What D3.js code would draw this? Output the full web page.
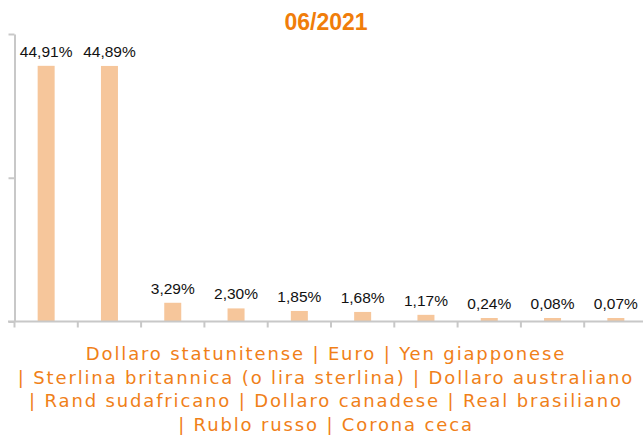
<!DOCTYPE html>
<html>
<head>
<meta charset="utf-8">
<script src="https://cdn.jsdelivr.net/npm/d3@7"></script>
<style>
  body { margin: 0; background: #fff; }
  svg { display: block; }
</style>
</head>
<body>
<svg id="chart"></svg>
<script>
const outerWidth = 643;
const outerHeight = 435;

// data
const currencies = ["Dollaro statunitense", "Euro", "Yen giapponese",
  "Sterlina britannica (o lira sterlina)", "Dollaro australiano",
  "Rand sudafricano", "Dollaro canadese", "Real brasiliano",
  "Rublo russo", "Corona ceca"];
const shares = [44.91, 44.89, 3.29, 2.30, 1.85, 1.68, 1.17, 0.24, 0.08, 0.07];
const legendLines = [
  "Dollaro statunitense | Euro | Yen giapponese",
  "| Sterlina britannica (o lira sterlina) | Dollaro australiano",
  "| Rand sudafricano | Dollaro canadese | Real brasiliano",
  "| Rublo russo | Corona ceca"
];
const title = "06/2021";
const yMax = 50.5;

const svg = d3.select("#chart")
  .attr("width", outerWidth)
  .attr("height", outerHeight);

var x = d3.scaleBand().domain(currencies).range([14.5, 647.5]).padding(0);
var y = d3.scaleLinear().domain([0, yMax]).range([321.5, 34]);

svg.append("text")
  .attr("x", 326).attr("y", 30)
  .attr("text-anchor", "middle")
  .style("font-family", "'Liberation Sans', Arial, sans-serif")
  .style("font-weight", "bold").style("font-size", "23px")
  .style("fill", "#f07d0a")
  .text(title);

// bars (tiny values still get a sliver, like the original)
var bw = 17;
var minH = 3.5;
var barTop = d => Math.min(y(d), y(0) - minH);

svg.append("g").selectAll("rect")
  .data(shares)
  .enter()
  .append("rect")
  .attr("x", (d, i) => x(currencies[i]) + x.bandwidth() / 2 - bw / 2)
  .attr("y", d => barTop(d))
  .attr("width", bw)
  .attr("height", d => y(0) - barTop(d))
  .style("fill", "#f6c69b");

svg.append("g").selectAll("text")
  .data(shares)
  .enter()
  .append("text")
  .attr("x", (d, i) => x(currencies[i]) + x.bandwidth() / 2)
  .attr("y", d => barTop(d) - 9)
  .attr("text-anchor", "middle")
  .style("font-family", "'Liberation Sans', Arial, sans-serif")
  .style("font-size", "15.5px")
  .style("fill", "#111")
  .text(d => d.toFixed(2).replace(".", ",") + "%");

// y axis
var yAxis = svg.append("g")
  .attr("transform", "translate(14.5,0)")
  .call(d3.axisLeft(y).tickValues([0, yMax / 2, yMax]).tickSize(6).tickSizeOuter(0).tickFormat(""));
yAxis.select(".domain").attr("stroke", "#c8c8c8").attr("stroke-width", 2);
yAxis.selectAll(".tick line").attr("stroke", "#c8c8c8").attr("stroke-width", 2);

// x axis: ticks sit on the band edges
var edges = currencies.map(c => x(c));
var xAxis = svg.append("g").attr("transform", "translate(0,321.5)");
xAxis.append("line").attr("x1", 8).attr("x2", outerWidth)
  .attr("stroke", "#c8c8c8").attr("stroke-width", 2);
xAxis.selectAll(".tk").data(edges).enter().append("line")
  .attr("x1", d => d).attr("x2", d => d).attr("y1", 0).attr("y2", 6)
  .attr("stroke", "#c8c8c8").attr("stroke-width", 2);

svg.append("g").selectAll("text")
  .data(legendLines)
  .enter()
  .append("text")
  .attr("x", 326)
  .attr("y", (d, i) => 360 + i * 23.7)
  .attr("text-anchor", "middle")
  .style("font-family", "'DejaVu Sans', Verdana, sans-serif")
  .style("font-size", "18px")
  .style("letter-spacing", "1.85px")
  .style("fill", "#f08018")
  .text(d => d);
</script>
</body>
</html>
